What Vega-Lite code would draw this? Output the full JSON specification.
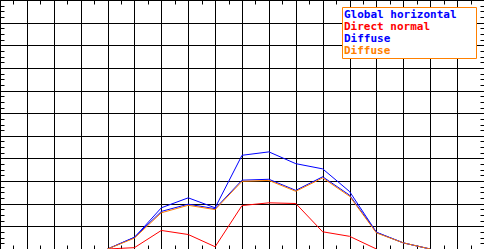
{
  "$schema": "https://vega.github.io/schema/vega-lite/v6.json",
  "width": 484,
  "height": 249,
  "autosize": {"type": "none"},
  "padding": {"left": 0, "top": 0, "right": 0, "bottom": 0},
  "background": "white",
  "config": {
    "view": {"stroke": "black", "strokeWidth": 1},
    "axis": {"labels": false, "title": null, "domain": false, "tickColor": "black", "tickWidth": 1, "gridColor": "black", "gridWidth": 1}
  },
  "data": {
    "values": [
      {"hour": 4, "value": 0, "series": "Global horizontal"},
      {"hour": 5, "value": 51, "series": "Global horizontal"},
      {"hour": 6, "value": 182, "series": "Global horizontal"},
      {"hour": 7, "value": 226, "series": "Global horizontal"},
      {"hour": 8, "value": 182, "series": "Global horizontal"},
      {"hour": 9, "value": 414, "series": "Global horizontal"},
      {"hour": 10, "value": 429, "series": "Global horizontal"},
      {"hour": 11, "value": 377, "series": "Global horizontal"},
      {"hour": 12, "value": 354, "series": "Global horizontal"},
      {"hour": 13, "value": 254, "series": "Global horizontal"},
      {"hour": 14, "value": 74, "series": "Global horizontal"},
      {"hour": 15, "value": 27, "series": "Global horizontal"},
      {"hour": 16, "value": 0, "series": "Global horizontal"},
      {"hour": 4, "value": 0, "series": "Direct normal"},
      {"hour": 5, "value": 6, "series": "Direct normal"},
      {"hour": 6, "value": 82, "series": "Direct normal"},
      {"hour": 7, "value": 64, "series": "Direct normal"},
      {"hour": 8, "value": 10, "series": "Direct normal"},
      {"hour": 9, "value": 192, "series": "Direct normal"},
      {"hour": 10, "value": 204, "series": "Direct normal"},
      {"hour": 11, "value": 201, "series": "Direct normal"},
      {"hour": 12, "value": 76, "series": "Direct normal"},
      {"hour": 13, "value": 56, "series": "Direct normal"},
      {"hour": 14, "value": 0, "series": "Direct normal"},
      {"hour": 4, "value": 0, "series": "Diffuse "},
      {"hour": 5, "value": 52, "series": "Diffuse "},
      {"hour": 6, "value": 166, "series": "Diffuse "},
      {"hour": 7, "value": 198, "series": "Diffuse "},
      {"hour": 8, "value": 178, "series": "Diffuse "},
      {"hour": 9, "value": 304, "series": "Diffuse "},
      {"hour": 10, "value": 308, "series": "Diffuse "},
      {"hour": 11, "value": 259, "series": "Diffuse "},
      {"hour": 12, "value": 319, "series": "Diffuse "},
      {"hour": 13, "value": 238, "series": "Diffuse "},
      {"hour": 14, "value": 73, "series": "Diffuse "},
      {"hour": 15, "value": 27, "series": "Diffuse "},
      {"hour": 16, "value": 0, "series": "Diffuse "},
      {"hour": 4, "value": 0, "series": "Diffuse"},
      {"hour": 5, "value": 48, "series": "Diffuse"},
      {"hour": 6, "value": 160, "series": "Diffuse"},
      {"hour": 7, "value": 193, "series": "Diffuse"},
      {"hour": 8, "value": 174, "series": "Diffuse"},
      {"hour": 9, "value": 299, "series": "Diffuse"},
      {"hour": 10, "value": 303, "series": "Diffuse"},
      {"hour": 11, "value": 255, "series": "Diffuse"},
      {"hour": 12, "value": 314, "series": "Diffuse"},
      {"hour": 13, "value": 233, "series": "Diffuse"},
      {"hour": 14, "value": 71, "series": "Diffuse"},
      {"hour": 15, "value": 27, "series": "Diffuse"},
      {"hour": 16, "value": 0, "series": "Diffuse"}
    ]
  },
  "layer": [
    {
      "transform": [{"filter": "datum.series !== 'Diffuse'"}],
      "mark": {"type": "line", "strokeWidth": 1},
      "encoding": {
        "x": {
          "field": "hour", "type": "quantitative",
          "scale": {"domain": [0, 18], "nice": false, "zero": false},
          "axis": {
            "orient": "bottom",
            "values": [0,0.5,1,1.5,2,2.5,3,3.5,4,4.5,5,5.5,6,6.5,7,7.5,8,8.5,9,9.5,10,10.5,11,11.5,12,12.5,13,13.5,14,14.5,15,15.5,16,16.5,17,17.5,18],
            "grid": true,
            "gridOpacity": {"condition": {"test": "datum.value % 1 !== 0", "value": 0}, "value": 1},
            "ticks": true, "tickSize": -4
          }
        },
        "y": {
          "field": "value", "type": "quantitative",
          "scale": {"domain": [0, 1100], "nice": false},
          "axis": {
            "orient": "left",
            "values": [0,25,50,75,100,125,150,175,200,225,250,275,300,325,350,375,400,425,450,475,500,525,550,575,600,625,650,675,700,725,750,775,800,825,850,875,900,925,950,975,1000,1025,1050,1075,1100],
            "grid": true,
            "gridOpacity": {"condition": {"test": "datum.value % 100 !== 0", "value": 0}, "value": 1},
            "ticks": true, "tickSize": -4
          }
        },
        "color": {
          "field": "series", "type": "nominal",
          "scale": {"domain": ["Global horizontal", "Direct normal", "Diffuse ", "Diffuse"], "range": ["#0000ff", "#ff0000", "#0000ff", "#ff8000"]},
          "legend": {
            "orient": "none", "legendX": 342, "legendY": 7,
            "title": null,
            "strokeColor": "#ff8000", "fillColor": "white",
            "padding": 2,
            "symbolSize": 1, "symbolOpacity": 0, "symbolStrokeWidth": 0, "symbolStrokeColor": "transparent", "symbolFillColor": "transparent",
            "symbolOffset": 124,
            "labelOffset": -135,
            "labelFont": "DejaVu Sans Mono", "labelFontWeight": "bold", "labelFontSize": 11,
            "rowPadding": 0,
            "encode": {"labels": {"update": {"fill": {"scale": "color", "field": "value"}}}}
          }
        }
      }
    },
    {
      "transform": [{"filter": "datum.series === 'Diffuse'"}],
      "mark": {"type": "line", "strokeWidth": 1},
      "encoding": {
        "x": {
          "field": "hour", "type": "quantitative",
          "axis": {
            "orient": "top",
            "values": [0.5,1.5,2.5,3.5,4.5,5.5,6.5,7.5,8.5,9.5,10.5,11.5,12.5,13.5,14.5,15.5,16.5,17.5],
            "grid": false, "ticks": true, "tickSize": -4
          }
        },
        "y": {
          "field": "value", "type": "quantitative",
          "axis": {
            "orient": "right",
            "values": [25,50,75,125,150,175,225,250,275,325,350,375,425,450,475,525,550,575,625,650,675,725,750,775,825,850,875,925,950,975,1025,1050,1075],
            "grid": false, "ticks": true, "tickSize": -4
          }
        },
        "color": {"field": "series", "type": "nominal"}
      }
    }
  ],
  "resolve": {"axis": {"x": "independent", "y": "independent"}}
}
